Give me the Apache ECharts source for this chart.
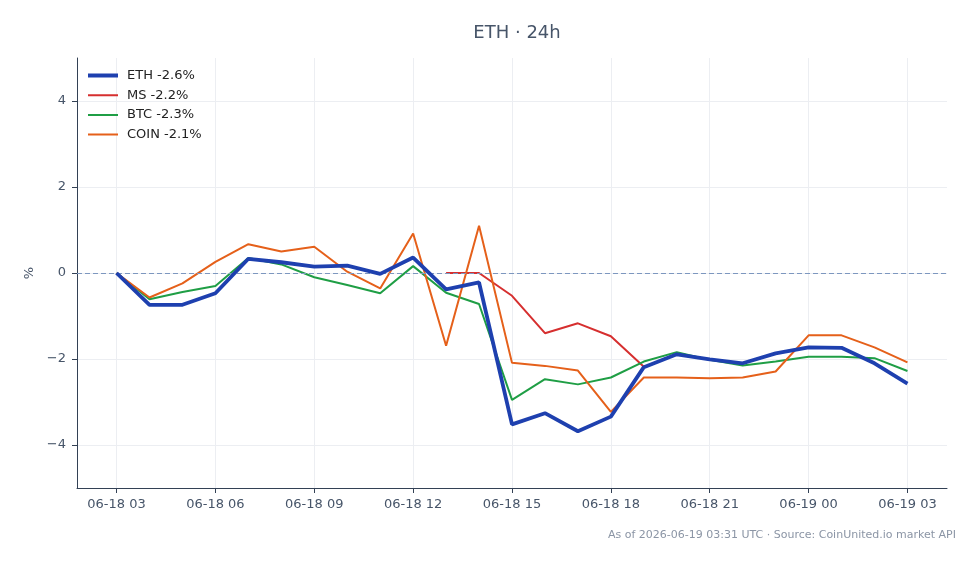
<!DOCTYPE html>
<html lang="en">

<head>
    <meta charset="utf-8">
    <title>ETH · 24h</title>
    <script src="https://cdn.jsdelivr.net/npm/echarts@6/dist/echarts.min.js"></script>
</head>

<body style="margin:0;background:#fff;">
    <div id="main" style="width:979px;height:564px;"></div>

    <script type="text/javascript">

        // hourly labels, 06-18 03 .. 06-19 03
        var times = ['06-18 03', '06-18 04', '06-18 05', '06-18 06', '06-18 07', '06-18 08', '06-18 09',
            '06-18 10', '06-18 11', '06-18 12', '06-18 13', '06-18 14', '06-18 15', '06-18 16',
            '06-18 17', '06-18 18', '06-18 19', '06-18 20', '06-18 21', '06-18 22', '06-18 23',
            '06-19 00', '06-19 01', '06-19 02', '06-19 03'];

        // % change from first value
        var eth = [0.0, -0.74, -0.74, -0.47, 0.33, 0.25, 0.15, 0.17, -0.02, 0.36, -0.38, -0.22,
            -3.52, -3.26, -3.68, -3.34, -2.19, -1.89, -2.01, -2.10, -1.87, -1.73, -1.74, -2.10, -2.57];
        var ms = [null, null, null, null, null, null, null, null, null, null, 0.0, 0.0,
            -0.53, -1.40, -1.17, -1.47, -2.18, null, null, null, null, null, null, null, null];
        var btc = [0.0, -0.61, -0.44, -0.30, 0.35, 0.20, -0.10, -0.28, -0.47, 0.16, -0.46, -0.72,
            -2.95, -2.47, -2.59, -2.43, -2.06, -1.84, -2.02, -2.15, -2.06, -1.95, -1.95, -1.98, -2.28];
        var coin = [0.0, -0.57, -0.24, 0.26, 0.67, 0.50, 0.61, 0.03, -0.36, 0.92, -1.69, 1.10,
            -2.09, -2.16, -2.27, -3.23, -2.43, -2.43, -2.45, -2.43, -2.29, -1.45, -1.45, -1.73, -2.08];

        var xTicks = [0, 3, 6, 9, 12, 15, 18, 21, 24];
        var yTicks = [-4, -2, 0, 2, 4];

        var names = ['ETH -2.6%', 'MS -2.2%', 'BTC -2.3%', 'COIN -2.1%'];
        var colors = ['#1e40af', '#d62f2f', '#1f9e45', '#e5601a'];

        // legend line icons: a bar inside a 30x10 box (dots at the corners fix the box)
        var thickIcon = 'path://M0,0L0.01,0M0,3H30V7H0ZM30,10L29.99,10';
        var thinIcon = 'path://M0,0L0.01,0M0,4H30V6H0ZM30,10L29.99,10';

        function pairs(arr) {
            return arr.map(function (v, i) { return [i, v]; });
        }

        var font = 'DejaVu Sans';
        var myChart = echarts.init(document.getElementById('main'));

        myChart.setOption({
            animation: false,
            textStyle: { fontFamily: font },
            title: [{
                text: 'ETH · 24h',
                left: 512,
                textAlign: 'center',
                top: 19,
                textStyle: { fontSize: 18, fontWeight: 'normal', color: '#475569', fontFamily: font }
            }, {
                text: 'As of 2026-06-19 03:31 UTC · Source: CoinUnited.io market API',
                right: 18,
                top: 525,
                textStyle: { fontSize: 11, fontWeight: 'normal', color: '#8b95a5', fontFamily: font }
            }],
            legend: {
                orient: 'vertical',
                left: 88,
                top: 69,
                padding: 0,
                itemWidth: 30,
                itemHeight: 10,
                itemGap: 6.7,
                data: names.map(function (n, i) {
                    return { name: n, icon: i === 0 ? thickIcon : thinIcon };
                }),
                textStyle: { fontSize: 13, color: '#222', fontFamily: font, padding: [0, 0, 0, 4] }
            },
            grid: { left: 77, right: 32, top: 58, bottom: 76 },
            xAxis: {
                type: 'value',
                min: -1.2,
                max: 25.2,
                axisLine: { show: true, onZero: false, lineStyle: { color: '#334155', width: 1 } },
                axisTick: { show: true, length: 5, customValues: xTicks, lineStyle: { color: '#334155' } },
                axisLabel: {
                    customValues: xTicks,
                    margin: 10,
                    fontSize: 13,
                    color: '#475569',
                    formatter: function (v) { return times[Math.round(v)]; }
                },
                splitLine: { show: true, lineStyle: { color: '#eceef2', width: 1 } }
            },
            yAxis: {
                type: 'value',
                min: -5,
                max: 5,
                name: '%',
                nameLocation: 'middle',
                nameGap: 40,
                nameRotate: 90,
                nameTextStyle: { fontSize: 13, color: '#475569' },
                axisLine: { show: true, onZero: false, lineStyle: { color: '#334155', width: 1 } },
                axisTick: { show: true, length: 5, customValues: yTicks, lineStyle: { color: '#334155' } },
                axisLabel: {
                    customValues: yTicks,
                    margin: 11,
                    fontSize: 13,
                    color: '#475569',
                    formatter: function (v) { return String(v).replace('-', '\u2212'); }
                },
                splitLine: { show: true, lineStyle: { color: '#eceef2', width: 1 } }
            },
            series: [{
                name: names[0],
                type: 'line',
                data: pairs(eth),
                symbol: 'none',
                z: 5,
                color: colors[0],
                lineStyle: { width: 3.8, color: colors[0] },
                markLine: {
                    silent: true,
                    symbol: 'none',
                    label: { show: false },
                    lineStyle: { color: '#7d97bf', type: [5, 3], width: 1 },
                    data: [{ yAxis: 0 }]
                }
            }, {
                name: names[1],
                type: 'line',
                data: pairs(ms),
                symbol: 'none',
                color: colors[1],
                lineStyle: { width: 2, color: colors[1] }
            }, {
                name: names[2],
                type: 'line',
                data: pairs(btc),
                symbol: 'none',
                color: colors[2],
                lineStyle: { width: 2, color: colors[2] }
            }, {
                name: names[3],
                type: 'line',
                data: pairs(coin),
                symbol: 'none',
                color: colors[3],
                lineStyle: { width: 2, color: colors[3] }
            }]
        });

    </script>
</body>

</html>
